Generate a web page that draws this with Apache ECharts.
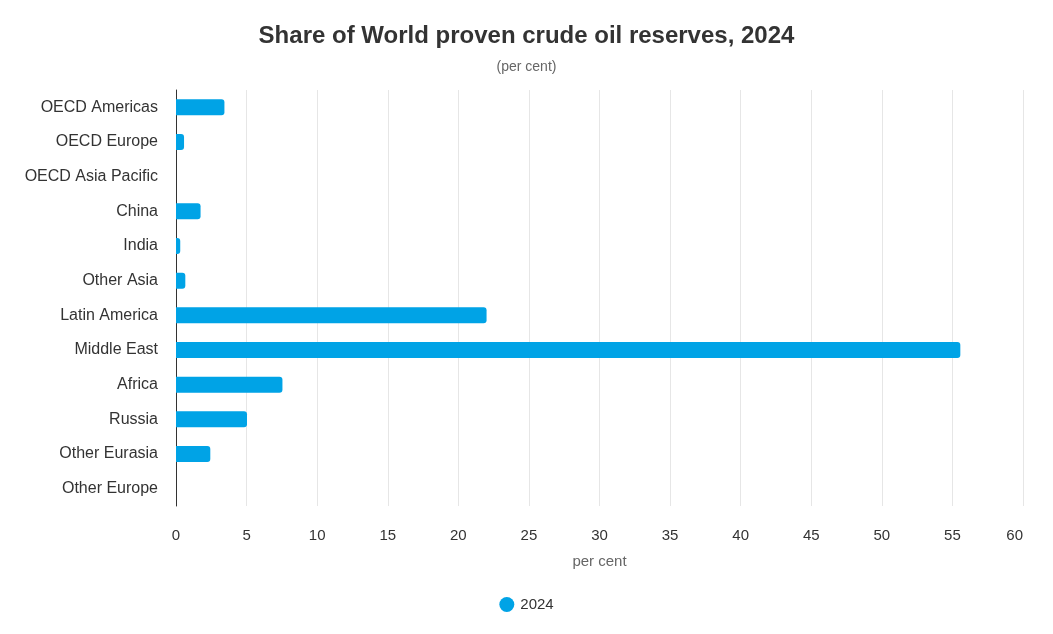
<!DOCTYPE html>
<html>
<head>
<meta charset="utf-8">
<script src="https://cdn.jsdelivr.net/npm/echarts@6/dist/echarts.min.js"></script>
<style>
html,body{margin:0;padding:0;background:#fff;}
#chart{width:1053px;height:634px;}
</style>
</head>
<body>
<div id="chart"></div>
<script>
const categories = ['OECD Americas','OECD Europe','OECD Asia Pacific','China','India','Other Asia','Latin America','Middle East','Africa','Russia','Other Eurasia','Other Europe'];
const values2024 = [3.43, 0.57, 0, 1.74, 0.3, 0.66, 22.0, 55.56, 7.54, 5.03, 2.43, 0];
const xTicks = {min: 0, max: 60, interval: 5};

const chart = echarts.init(document.getElementById('chart'));
const font = 'Liberation Sans, Arial, Helvetica, sans-serif';
chart.setOption({
  backgroundColor: '#fff',
  textStyle: {fontFamily: font},
  title: {
    text: 'Share of World proven crude oil reserves, 2024',
    subtext: '(per cent)',
    left: 'center',
    top: 19,
    itemGap: 12,
    textStyle: {fontSize: 24, fontWeight: 'bold', color: '#333', fontFamily: font},
    subtextStyle: {fontSize: 14, color: '#666', fontFamily: font}
  },
  legend: {
    bottom: 17,
    left: 'center',
    icon: 'circle',
    itemWidth: 15,
    itemHeight: 15,
    itemGap: 10,
    textStyle: {fontSize: 15, color: '#333', fontFamily: font, padding: [0, 0, 0, 1]},
    data: ['2024']
  },
  grid: {left: 176, right: 30, top: 90, bottom: 128, containLabel: false},
  xAxis: {
    type: 'value',
    min: xTicks.min, max: xTicks.max, interval: xTicks.interval,
    name: 'per cent',
    nameLocation: 'middle',
    nameGap: 48,
    nameTextStyle: {fontSize: 15, color: '#666', fontFamily: font},
    axisLine: {show: false},
    axisTick: {show: false},
    axisLabel: {fontSize: 15, color: '#333', margin: 22, fontFamily: font, alignMaxLabel: 'right'},
    splitLine: {show: true, lineStyle: {color: '#e6e6e6', width: 1}}
  },
  yAxis: {
    type: 'category',
    data: categories,
    inverse: true,
    axisLine: {show: true, lineStyle: {color: '#333', width: 1}},
    axisTick: {show: false},
    axisLabel: {fontSize: 16, color: '#333', margin: 18, fontFamily: font, padding: [3, 0, 0, 0]},
    splitLine: {show: false}
  },
  series: [{
    name: '2024',
    type: 'bar',
    data: values2024,
    barWidth: 16,
    itemStyle: {color: '#00a3e6', borderRadius: [0, 3, 3, 0]}
  }]
});
</script>
</body>
</html>
